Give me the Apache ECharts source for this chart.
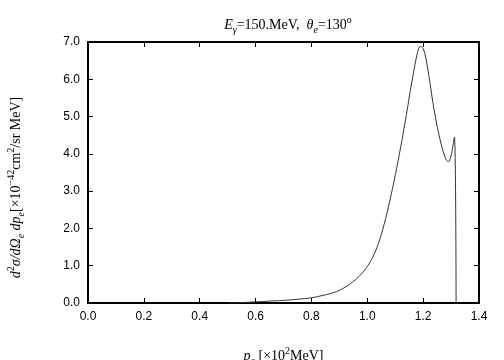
<!DOCTYPE html>
<html>
<head>
<meta charset="utf-8">
<script src="https://cdn.jsdelivr.net/npm/echarts@6/dist/echarts.min.js"></script>
<style>
html, body { margin: 0; padding: 0; background: #fff; }
#chart { width: 504px; height: 360px; }
</style>
</head>
<body>
<div id="chart"></div>
<script>
// electron momentum [x10^2 MeV] and cross section [x10^-42 cm2/sr MeV]
var pe = [0.50, 0.55, 0.60, 0.65, 0.70, 0.75, 0.80, 0.85, 0.88, 0.90, 0.92, 0.94, 0.96, 0.98, 1.00,
          1.02, 1.04, 1.06, 1.08, 1.10, 1.12, 1.14, 1.16, 1.18, 1.19, 1.20, 1.21, 1.22, 1.24, 1.26,
          1.28, 1.29, 1.30, 1.305, 1.312, 1.318];
var xsec = [0.00, 0.01, 0.03, 0.05, 0.07, 0.10, 0.14, 0.22, 0.28, 0.34, 0.42, 0.52, 0.64, 0.79, 0.98,
            1.24, 1.60, 2.10, 2.72, 3.42, 4.20, 5.05, 5.95, 6.72, 6.88, 6.82, 6.55, 6.12, 5.15, 4.40,
            3.88, 3.79, 3.95, 4.15, 4.45, 0.00];

var xTicks = [0.0, 0.2, 0.4, 0.6, 0.8, 1.0, 1.2, 1.4];
var yTicks = [0.0, 1.0, 2.0, 3.0, 4.0, 5.0, 6.0, 7.0];

var serif = "Liberation Serif";
var sans = "Liberation Sans";

var points = [];
for (var i = 0; i < pe.length; i++) {
    points.push([pe[i], xsec[i]]);
}

function makeRich(size) {
    var small = Math.round(size * 0.7);
    return {
        n: {fontFamily: serif, fontSize: size, fontWeight: 'normal', color: '#000', lineHeight: size + 6, verticalAlign: 'middle'},
        i: {fontFamily: serif, fontSize: size, fontWeight: 'normal', fontStyle: 'italic', color: '#000', lineHeight: size + 6, verticalAlign: 'middle'},
        sub: {fontFamily: serif, fontSize: small, fontWeight: 'normal', fontStyle: 'italic', color: '#000', lineHeight: small, verticalAlign: 'bottom'},
        sup: {fontFamily: serif, fontSize: small, fontWeight: 'normal', color: '#000', lineHeight: small, verticalAlign: 'top'}
    };
}

function frameAxis() {
    return {
        axisLine: {show: true, onZero: false, lineStyle: {color: '#000', width: 2}},
        axisTick: {show: true, inside: true, length: 5, lineStyle: {color: '#000', width: 1}},
        splitLine: {show: false}
    };
}

var chart = echarts.init(document.getElementById('chart'));
chart.setOption({
    animation: false,
    backgroundColor: '#fff',
    title: {
        text: '{i|E}{sub|γ}{n|=150.MeV,  }{i|θ}{sub|e}{n|=130}{sup|o}',
        left: 283,
        top: 10,
        textAlign: 'center',
        textStyle: {fontWeight: 'normal', rich: makeRich(14)}
    },
    grid: {left: 88, right: 25, top: 42, bottom: 57, outerBoundsMode: 'none'},
    xAxis: [
        Object.assign(frameAxis(), {
            type: 'value', min: 0, max: 1.4, interval: 0.2, position: 'bottom',
            axisLabel: {
                color: '#000', fontFamily: sans, fontSize: 12, margin: 8,
                formatter: function(v) { return v.toFixed(1); }
            },
            name: '{i|p}{sub|e}{n| [×10}{sup|2}{n|MeV]}',
            nameLocation: 'middle',
            nameGap: 43,
            nameTextStyle: {rich: makeRich(14)}
        }),
        Object.assign(frameAxis(), {
            type: 'value', min: 0, max: 1.4, interval: 0.2, position: 'top',
            axisLabel: {show: false}
        })
    ],
    yAxis: [
        Object.assign(frameAxis(), {
            type: 'value', min: 0, max: 7, interval: 1, position: 'left',
            axisLabel: {
                color: '#000', fontFamily: sans, fontSize: 12, margin: 8,
                formatter: function(v) { return v.toFixed(1); }
            },
            name: '{i|d}{sup|2}{i|σ/dΩ}{sub|e}{i| dp}{sub|e}{n|[×10}{sup|−42}{n|cm}{sup|2}{n|/sr MeV]}',
            nameLocation: 'middle',
            nameRotate: 90,
            nameGap: 62,
            nameTextStyle: {rich: makeRich(14), padding: [0, 30, 0, 0]}
        }),
        Object.assign(frameAxis(), {
            type: 'value', min: 0, max: 7, interval: 1, position: 'right',
            axisLabel: {show: false}
        })
    ],
    series: [{
        type: 'line',
        data: points,
        showSymbol: false,
        smooth: 0.4,
        lineStyle: {color: '#333', width: 1},
        silent: true
    }]
});
</script>
</body>
</html>
